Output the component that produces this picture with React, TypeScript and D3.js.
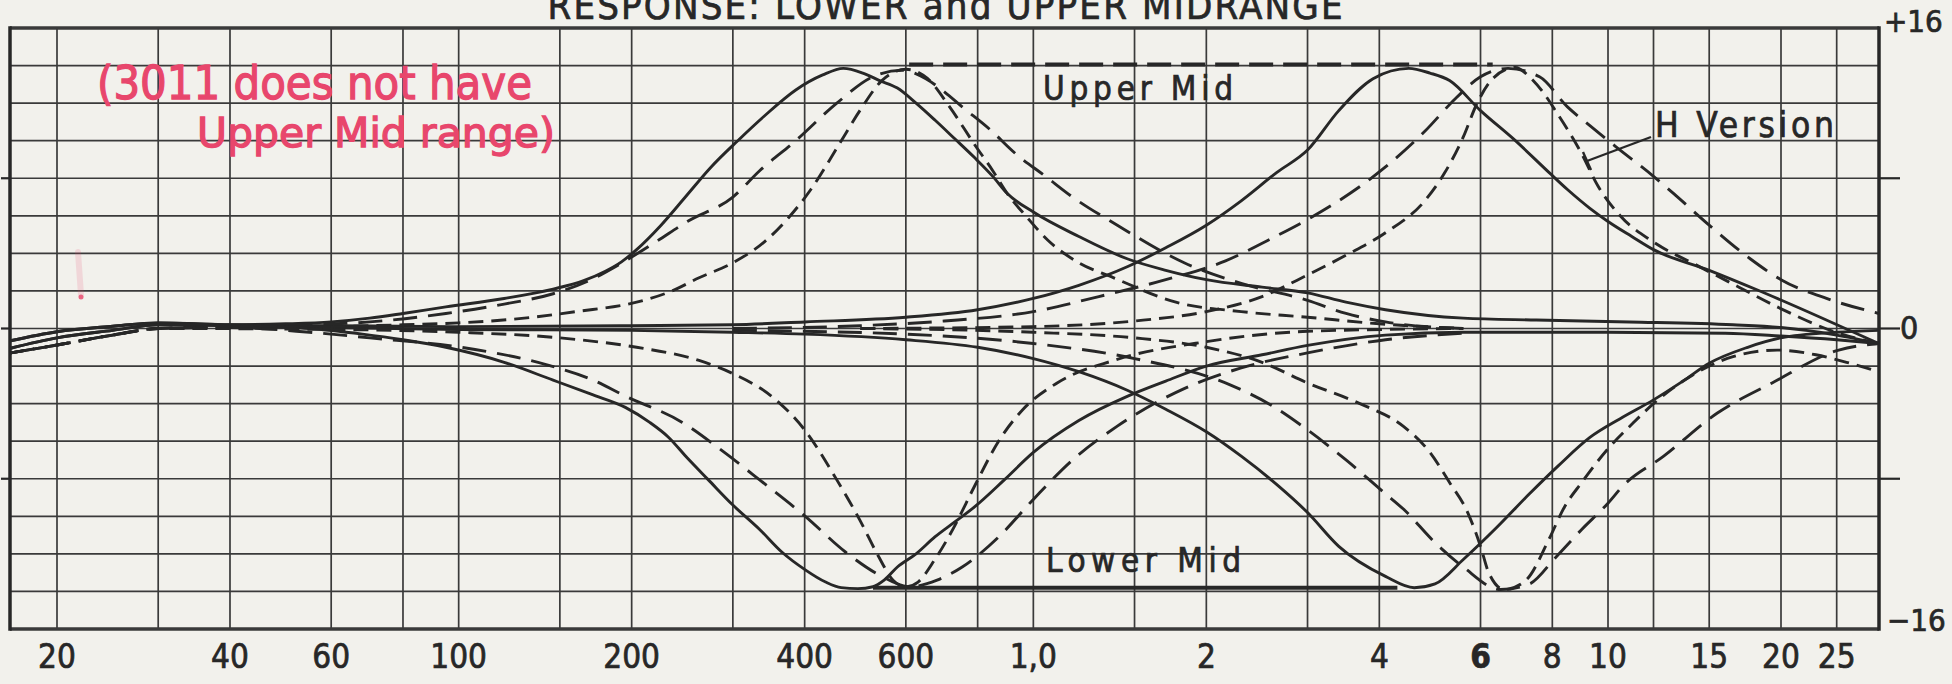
import * as d3 from "d3";
import { useEffect } from "react";

// frequency grid (Hz) and tick labels
const gridFreqs = [20, 30, 40, 60, 80, 100, 150, 200, 300, 400, 600, 800, 1000, 1500, 2000, 3000, 4000, 6000, 8000, 10000, 12000, 15000, 20000, 25000];
const tickFreqs = [20, 40, 60, 100, 200, 400, 600, 1000, 2000, 4000, 6000, 8000, 10000, 15000, 20000, 25000];
const tickLabels = ["20", "40", "60", "100", "200", "400", "600", "1,0", "2", "4", "6", "8", "10", "15", "20", "25"];
const gridDb = d3.range(-16, 17, 2);

type Pt = [number, number];

// solid curves (Lower Mid), values as [Hz, dB]
const solidBoostLow: Pt[] = [[16.6,-0.65],[20,-0.17],[25,0.12],[30,0.3],[40,0.2],[50,0.25],[60,0.35],[70,0.55],[80,0.8],[95,1.15],[120,1.6],[146,2.1],[165,2.55],[180,3.05],[192,3.55],[204,4.2],[225,5.5],[248,7.0],[275,8.6],[306,10.0],[340,11.3],[386,12.7],[430,13.5],[467,13.85],[505,13.6],[540,13.2],[580,12.8],[625,12.0],[674,11.1],[730,10.1],[790,9.1],[850,8.1],[900,7.2],[1000,6.2],[1200,4.9],[1460,3.7],[1700,3.1],[2000,2.6],[2500,2.2],[3000,1.9],[3500,1.4],[4100,1.0],[5600,0.55],[7500,0.45],[10900,0.35],[16500,0.2],[20000,0.05],[25000,-0.35],[29600,-0.8]];
const solidCutLow: Pt[] = [[16.6,-1.05],[20,-0.5],[25,-0.1],[30,0.2],[40,0.15],[55,0],[68,-0.3],[80,-0.6],[95,-1.0],[120,-1.8],[146,-2.75],[170,-3.5],[195,-4.2],[215,-5.0],[232,-5.8],[250,-6.9],[272,-8.06],[300,-9.4],[334,-10.7],[365,-11.9],[401,-12.85],[435,-13.5],[463,-13.8],[495,-13.85],[526,-13.75],[550,-13.4],[580,-12.7],[625,-12.0],[674,-11.1],[730,-10.3],[790,-9.5],[890,-8.06],[1000,-6.6],[1200,-4.9],[1460,-3.6],[1700,-2.8],[2000,-2.0],[2500,-1.4],[3000,-0.9],[4100,-0.35],[5600,-0.2],[10000,-0.2],[16000,-0.25],[20000,-0.4],[25000,-0.6],[29600,-0.8]];
const solidBoostHigh: Pt[] = [[16.6,-0.65],[20,-0.17],[25,0.12],[30,0.3],[40,0.2],[60,0.15],[100,0.1],[200,0.15],[300,0.2],[400,0.35],[600,0.6],[800,1.0],[1000,1.6],[1200,2.3],[1460,3.3],[1700,4.3],[2000,5.5],[2300,6.8],[2650,8.3],[3000,9.5],[3400,11.6],[3900,13.3],[4500,13.85],[4900,13.6],[5300,13.2],[6000,11.6],[6900,10.0],[7900,8.3],[8500,7.4],[9300,6.4],[10000,5.7],[11000,4.9],[12000,4.2],[15000,3.1],[18200,2.05],[23400,0.6],[29600,-0.8]];
const solidCutHigh: Pt[] = [[16.6,-1.05],[20,-0.5],[25,-0.1],[30,0.2],[40,0.15],[60,0.05],[100,-0.05],[200,-0.1],[300,-0.2],[400,-0.3],[600,-0.6],[800,-1.0],[1000,-1.6],[1200,-2.3],[1460,-3.3],[1700,-4.3],[2000,-5.5],[2300,-6.8],[2650,-8.3],[3000,-9.8],[3400,-11.6],[4100,-13.2],[4600,-13.8],[5000,-13.6],[5600,-12.3],[6400,-10.6],[7300,-8.8],[8200,-7.3],[9300,-5.8],[10500,-4.8],[12000,-3.8],[13500,-2.8],[15000,-1.85],[17500,-1.0],[20000,-0.5],[25000,-0.2],[29600,-0.1]];

// long dashes (wide Q)
const longBoostLow: Pt[] = [[16.6,-1.3],[20,-0.88],[25,-0.35],[30,0],[40,0.1],[55,0.2],[70,0.35],[95,0.8],[120,1.3],[146,1.85],[170,2.6],[190,3.4],[220,4.6],[250,5.7],[300,7.0],[334,8.4],[386,10.0],[455,12.0],[525,13.4],[590,13.75],[650,13.3],[700,12.6],[752,11.8],[840,10.6],[932,9.3],[1050,8.1],[1170,7.0],[1400,5.5],[1830,3.5],[2300,2.4],[3000,1.5],[3500,0.8],[4100,0.35],[5600,0]];
const longCutLow: Pt[] = [[16.6,-1.3],[20,-0.88],[25,-0.35],[30,0],[40,0.05],[55,-0.2],[70,-0.5],[101,-1.0],[143,-1.95],[170,-2.7],[195,-3.6],[245,-5.0],[290,-6.6],[334,-8.06],[401,-10.0],[471,-11.9],[545,-13.2],[608,-13.75],[680,-13.4],[752,-12.7],[870,-11.1],[1000,-9.1],[1170,-7.0],[1400,-5.2],[1830,-3.2],[2300,-2.1],[3000,-1.3],[4100,-0.6],[5600,-0.25]];
const longBoostHigh: Pt[] = [[300,0],[500,0.15],[700,0.4],[1000,0.9],[1300,1.7],[1700,2.6],[2160,3.6],[2600,4.8],[3000,5.8],[3400,6.8],[4100,8.6],[4800,10.5],[5450,12.3],[6000,13.4],[6700,13.85],[7600,13.4],[8500,11.8],[9300,10.8],[10300,9.7],[12000,8.1],[13100,7.1],[15000,5.5],[17700,3.7],[20000,2.6],[24000,1.6],[29600,0.8]];
const longCutHigh: Pt[] = [[300,-0.1],[600,-0.3],[1000,-0.8],[1500,-1.6],[2200,-3.0],[2600,-4.1],[3000,-5.4],[3500,-7.0],[4100,-8.8],[4400,-9.6],[5000,-11.4],[5600,-12.7],[6500,-13.9],[7300,-13.6],[8100,-12.2],[9000,-10.7],[10000,-9.3],[10600,-8.4],[12500,-6.8],[15500,-4.5],[19300,-2.9],[25200,-1.15],[29600,-0.8]];

// short dashes (narrow Q, H version)
const shortBoostLow: Pt[] = [[16.6,-1.3],[20,-0.88],[25,-0.35],[30,0],[40,0.05],[60,0.1],[80,0.2],[100,0.3],[130,0.55],[160,0.9],[204,1.4],[235,2.0],[262,2.7],[300,3.5],[340,4.6],[375,5.9],[410,7.4],[455,9.6],[499,11.6],[545,13.2],[600,13.8],[655,13.3],[715,11.8],[790,9.8],[850,8.4],[900,7.2],[970,6.0],[1060,4.7],[1200,3.5],[1380,2.7],[1770,1.4],[2300,0.9],[3000,0.6],[4000,0.25],[5600,0]];
const shortCutLow: Pt[] = [[16.6,-1.3],[20,-0.88],[25,-0.35],[30,0],[60,-0.05],[100,-0.2],[150,-0.5],[204,-1.0],[262,-1.7],[300,-2.4],[350,-3.6],[400,-5.4],[455,-8.06],[499,-10.2],[537,-12.1],[570,-13.4],[600,-13.75],[630,-13.5],[674,-12.3],[727,-10.6],[790,-8.4],[870,-6.0],[960,-4.3],[1100,-2.9],[1380,-1.7],[2000,-0.7],[3000,-0.15],[5600,0]];
const shortBoostHigh: Pt[] = [[500,0],[1000,0.1],[1500,0.4],[2000,0.9],[2500,1.7],[3000,2.85],[3500,3.9],[4100,5.1],[4800,6.8],[5200,8.3],[5600,10.2],[5900,11.9],[6300,13.3],[6900,13.9],[7300,13.4],[7700,12.6],[8100,11.6],[9000,9.3],[9600,7.6],[10500,6.0],[12000,4.6],[14200,3.4],[16900,2.2],[19700,1.15],[25200,-0.25],[29600,-0.8]];
const shortCutHigh: Pt[] = [[500,0],[1000,-0.2],[1500,-0.5],[2000,-1.0],[2500,-1.8],[3000,-2.9],[3700,-4.0],[4400,-5.2],[4900,-6.6],[5300,-8.2],[5700,-9.8],[6000,-11.6],[6200,-13.0],[6600,-13.9],[7200,-13.4],[7900,-11.2],[8400,-9.5],[9000,-8.2],[10000,-6.4],[11000,-5.1],[12000,-4.0],[14000,-2.5],[16500,-1.5],[19700,-1.15],[23000,-1.4],[26000,-1.8],[29600,-2.3]];

const curves: { pts: Pt[]; dash: string }[] = [
  { pts: solidBoostLow, dash: "none" },
  { pts: solidCutLow, dash: "none" },
  { pts: solidBoostHigh, dash: "none" },
  { pts: solidCutHigh, dash: "none" },
  { pts: longBoostLow, dash: "24 11" },
  { pts: longCutLow, dash: "24 11" },
  { pts: longBoostHigh, dash: "24 11" },
  { pts: longCutHigh, dash: "24 11" },
  { pts: shortBoostLow, dash: "15 8" },
  { pts: shortCutLow, dash: "15 8" },
  { pts: shortBoostHigh, dash: "15 8" },
  { pts: shortCutHigh, dash: "15 8" },
];

// range markers
const upperMidRange: Pt[] = [[608, 14.05], [6300, 14.05]];
const lowerMidRange: Pt[] = [[526, -13.8], [4300, -13.8]];

const W = 1952;
const H = 684;
const ink = "#272727";
const font = "'DejaVu Sans Condensed', 'DejaVu Sans', sans-serif";
const pink = "#e8466c";

export default function App() {
  useEffect(() => {
    document.body.style.margin = "0";
  }, []);

  const x = d3.scaleLog().domain([20, 20000]).range([57, 1781]);
  const y = d3.scaleLinear().domain([-16, 16]).range([629, 28]);
  const x0 = 10;
  const x1 = 1879;
  const line = d3
    .line<Pt>()
    .x((d) => x(d[0]))
    .y((d) => y(d[1]))
    .curve(d3.curveMonotoneX);

  const textProps = { fontFamily: font, fill: ink, stroke: ink, strokeWidth: 0.7 };
  const noteProps = { fontFamily: "'DejaVu Sans', sans-serif", fill: pink, stroke: pink, strokeWidth: 1.3 };

  return (
    <svg width={W} height={H} style={{ display: "block", background: "#f2f1ec" }}>
      <text x={945} y={19} textAnchor="middle" fontSize={38} textLength={795} lengthAdjust="spacing" {...textProps}>
        RESPONSE: LOWER and UPPER MIDRANGE
      </text>
      {/* grid */}
      {gridDb.map((d) => (
        <line key={"h" + d} x1={x0} x2={x1} y1={y(d)} y2={y(d)} stroke="#3a3a3a" strokeWidth={Math.abs(d) === 16 ? 3.5 : 1.7} />
      ))}
      {gridFreqs.map((f) => (
        <line key={"v" + f} x1={x(f)} x2={x(f)} y1={y(16)} y2={y(-16)} stroke="#3a3a3a" strokeWidth={1.7} />
      ))}
      <line x1={x0} x2={x0} y1={y(16) - 1.7} y2={y(-16) + 1.7} stroke={ink} strokeWidth={3.5} />
      <line x1={x1} x2={x1} y1={y(16) - 1.7} y2={y(-16) + 1.7} stroke={ink} strokeWidth={3.5} />
      {[8, 0, -8].map((d) => (
        <g key={"t" + d}>
          <line x1={x1} x2={x1 + 21} y1={y(d)} y2={y(d)} stroke={ink} strokeWidth={2.2} />
          <line x1={x0 - 9} x2={x0} y1={y(d)} y2={y(d)} stroke={ink} strokeWidth={2.2} />
        </g>
      ))}
      {/* curves */}
      {curves.map((c, i) => (
        <path key={i} d={line(c.pts) ?? ""} fill="none" stroke={ink} strokeWidth={2.9} strokeDasharray={c.dash} />
      ))}
      <path d={line(upperMidRange) ?? ""} fill="none" stroke={ink} strokeWidth={4} strokeDasharray="24 10" />
      <path d={line(lowerMidRange) ?? ""} fill="none" stroke={ink} strokeWidth={4} />
      {/* labels */}
      <text x={1043} y={100} fontSize={33} textLength={190} lengthAdjust="spacing" {...textProps}>Upper Mid</text>
      <text x={1046} y={572} fontSize={33} textLength={195} lengthAdjust="spacing" {...textProps}>Lower Mid</text>
      <text x={1655} y={137} fontSize={35} textLength={179} lengthAdjust="spacing" {...textProps}>H Version</text>
      <line x1={1651} y1={137} x2={1587} y2={161} stroke={ink} strokeWidth={2.4} />
      <line x1={1583} y1={152} x2={1591} y2={170} stroke={ink} strokeWidth={2.4} />
      {/* tick labels */}
      {tickFreqs.map((f, i) => (
        <text key={"l" + f} x={x(f)} y={668} textAnchor="middle" fontSize={33} fontWeight={f === 6000 ? "bold" : "normal"} {...textProps}>
          {tickLabels[i]}
        </text>
      ))}
      <text x={1884} y={32} fontSize={31} {...textProps}>+16</text>
      <text x={1900} y={339} fontSize={32} {...textProps}>0</text>
      <text x={1887} y={631} fontSize={31} {...textProps}>−16</text>
      {/* handwritten note */}
      <text x={97} y={99} fontSize={46} textLength={435} lengthAdjust="spacingAndGlyphs" {...noteProps}>(3011 does not have</text>
      <text x={197} y={147} fontSize={41} textLength={358} lengthAdjust="spacingAndGlyphs" {...noteProps}>Upper Mid range)</text>
      <line x1={78} y1={252} x2={81} y2={295} stroke={pink} strokeWidth={6} opacity={0.15} strokeLinecap="round" />
      <circle cx={81} cy={297} r={2.5} fill={pink} opacity={0.8} />
    </svg>
  );
}
